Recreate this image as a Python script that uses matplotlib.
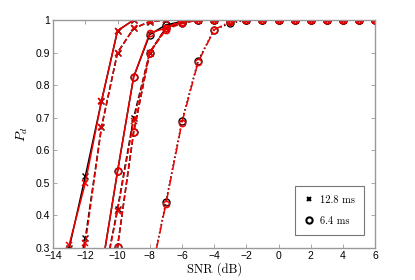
import matplotlib
matplotlib.use("Agg")
import matplotlib.pyplot as plt
from matplotlib.lines import Line2D

plt.rcParams['mathtext.fontset'] = 'cm'

snr = [-13, -12, -11, -10, -9, -8, -7, -6, -5, -4, -3, -2, -1, 0, 1, 2, 3, 4, 5, 6]

# 12.8 ms curves (x markers)
a_red = [0.31, 0.50, 0.75, 0.967, 1.0, 1.0, 1.0, 1.0, 1.0, 1.0, 1.0, 1.0, 1.0, 1.0, 1.0, 1.0, 1.0, 1.0, 1.0, 1.0]
a_blk = [0.30, 0.52, 0.75, 0.967, 1.0, 1.0, 1.0, 1.0, 1.0, 1.0, 1.0, 1.0, 1.0, 1.0, 1.0, 1.0, 1.0, 1.0, 1.0, 1.0]
b_red = [0.10, 0.314, 0.67, 0.90, 0.974, 0.995, 1.0, 1.0, 1.0, 1.0, 1.0, 1.0, 1.0, 1.0, 1.0, 1.0, 1.0, 1.0, 1.0, 1.0]
b_blk = [0.10, 0.33, 0.67, 0.90, 0.974, 0.995, 1.0, 1.0, 1.0, 1.0, 1.0, 1.0, 1.0, 1.0, 1.0, 1.0, 1.0, 1.0, 1.0, 1.0]
d_red = [0.0, 0.0, 0.165, 0.415, 0.69, 0.90, 0.975, 1.0, 1.0, 1.0, 1.0, 1.0, 1.0, 1.0, 1.0, 1.0, 1.0, 1.0, 1.0, 1.0]
d_blk = [0.0, 0.0, 0.17, 0.42, 0.70, 0.90, 0.975, 1.0, 1.0, 1.0, 1.0, 1.0, 1.0, 1.0, 1.0, 1.0, 1.0, 1.0, 1.0, 1.0]

# 6.4 ms curves (o markers)
c_red = [0.0, 0.0, 0.23, 0.535, 0.825, 0.96, 0.975, 0.995, 1.0, 1.0, 1.0, 1.0, 1.0, 1.0, 1.0, 1.0, 1.0, 1.0, 1.0, 1.0]
c_blk = [0.0, 0.0, 0.23, 0.535, 0.825, 0.955, 0.985, 0.995, 1.0, 1.0, 1.0, 1.0, 1.0, 1.0, 1.0, 1.0, 1.0, 1.0, 1.0, 1.0]
e_red = [0.0, 0.0, 0.0, 0.304, 0.655, 0.90, 0.97, 0.99, 1.0, 1.0, 1.0, 1.0, 1.0, 1.0, 1.0, 1.0, 1.0, 1.0, 1.0, 1.0]
e_blk = [0.0, 0.0, 0.0, 0.304, 0.655, 0.90, 0.975, 0.99, 1.0, 1.0, 1.0, 1.0, 1.0, 1.0, 1.0, 1.0, 1.0, 1.0, 1.0, 1.0]
f_red = [0.0, 0.0, 0.0, 0.0, 0.0, 0.20, 0.434, 0.685, 0.87, 0.97, 0.995, 1.0, 1.0, 1.0, 1.0, 1.0, 1.0, 1.0, 1.0, 1.0]
f_blk = [0.0, 0.0, 0.0, 0.0, 0.0, 0.20, 0.44, 0.69, 0.875, 0.97, 0.99, 1.0, 1.0, 1.0, 1.0, 1.0, 1.0, 1.0, 1.0, 1.0]

legend_labels = ['12.8 ms', '6.4 ms']
xticks = [-14, -12, -10, -8, -6, -4, -2, 0, 2, 4, 6]
yticks = [0.3, 0.4, 0.5, 0.6, 0.7, 0.8, 0.9, 1.0]
yticklabels = ['0.3', '0.4', '0.5', '0.6', '0.7', '0.8', '0.9', '1']

fig = plt.figure(figsize=(4.15, 2.8), dpi=100)
ax = fig.add_axes([0.128, 0.1143, 0.776, 0.8143])

curves = [
    (a_blk, a_red, '-', 'x'),
    (b_blk, b_red, '--', 'x'),
    (d_blk, d_red, '--', 'x'),
    (c_blk, c_red, '-', 'o'),
    (e_blk, e_red, '--', 'o'),
    (f_blk, f_red, '-.', 'o'),
]
for blk, red, ls, mk in curves:
    ms = 5.0 if mk == 'o' else 4.0
    ax.plot(snr, blk, color='black', ls=(':' if ls == '-.' else ls), marker=mk,
            ms=ms, mfc='none', mew=1.0, lw=1.1, clip_on=True)
for blk, red, ls, mk in curves:
    ms = 4.5 if mk == 'o' else 4.0
    ax.plot(snr, red, color='#ee0000', ls=ls, marker=mk, ms=ms, mfc='none',
            mew=1.1, lw=1.1, clip_on=True)

ax.set_xlim(-14, 6)
ax.set_ylim(0.3, 1.0)
ax.set_xticks(xticks)
ax.set_xticklabels([str(t).replace('-', '\u2212') for t in xticks])
ax.set_yticks(yticks)
ax.set_yticklabels(yticklabels)
ax.tick_params(direction='in', length=3, width=0.6, color='#999999',
               labelsize=7.5, pad=2, top=True, right=True)
for lab in ax.get_xticklabels() + ax.get_yticklabels():
    lab.set_family('Liberation Sans')
for sp in ax.spines.values():
    sp.set_color('#999999')
    sp.set_linewidth(1.0)

ax.set_xlabel('SNR (dB)', family='cmr10', fontsize=9, labelpad=1)
ax.set_ylabel('$P_d$', fontsize=10, labelpad=4)

handles = [Line2D([], [], color='black', marker='x', ls='none', ms=3.5, mew=1.5),
           Line2D([], [], color='black', marker='o', ls='none', ms=4.5, mfc='none', mew=1.5)]
leg = ax.legend(handles, legend_labels, loc='lower right',
                bbox_to_anchor=(0.965, 0.055), prop={'family': 'cmr10', 'size': 7.5},
                frameon=True, fancybox=False, edgecolor='#555555',
                handlelength=0.9, handletextpad=0.6, labelspacing=1.1,
                borderpad=0.9, borderaxespad=0.0)
leg.get_frame().set_linewidth(0.8)

fig.savefig('out.png', dpi=100)
